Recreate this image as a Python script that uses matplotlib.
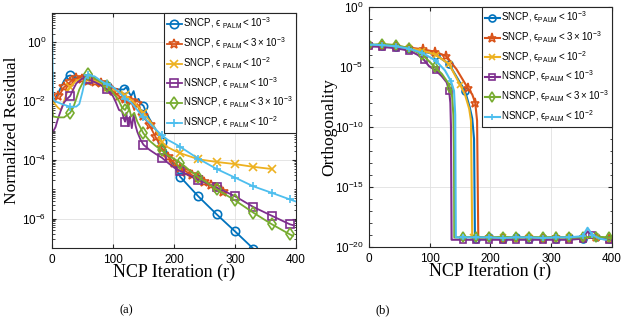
import matplotlib
matplotlib.use('Agg')
import matplotlib.pyplot as plt
import numpy as np
from matplotlib.ticker import FixedLocator, NullFormatter, FixedFormatter

plt.rcParams['font.family'] = 'Liberation Sans'
plt.rcParams['mathtext.default'] = 'regular'

# ---- data: normalized residual (panel a) ----
res_sncp1_x = [0, 5, 10, 15, 20, 25, 30, 40, 50, 60, 70, 80, 90, 100, 110, 118, 122, 126, 130, 134,
               138, 142, 146, 150, 155, 160, 170, 180, 190, 200, 210, 240, 270, 300, 330, 345]
res_sncp1_y = [1.0e-2, 1.2e-2, 1.8e-2, 3.0e-2, 5.0e-2, 7.0e-2, 7.5e-2, 6.5e-2, 6.0e-2, 5.5e-2, 5.0e-2,
               4.0e-2, 3.2e-2, 2.8e-2, 2.5e-2, 2.5e-2, 3.0e-2, 2.0e-2, 1.5e-2, 2.2e-2, 1.0e-2, 1.2e-2,
               8.0e-3, 7.0e-3, 4.0e-3, 2.5e-3, 1.1e-3, 4.0e-4, 1.6e-4, 6.5e-5, 2.7e-5, 5.7e-6, 1.4e-6,
               3.7e-7, 9.5e-8, 4.5e-8]

res_sncp3_x = [0, 5, 10, 15, 20, 25, 30, 35, 40, 50, 60, 70, 80, 90, 100, 110, 115, 120, 125, 130,
               135, 140, 145, 150, 160, 170, 180, 190, 200, 210, 220, 230, 240, 250, 260, 270, 280, 285]
res_sncp3_y = [1.2e-2, 1.0e-2, 1.5e-2, 2.0e-2, 3.0e-2, 3.5e-2, 4.5e-2, 5.5e-2, 6.0e-2, 5.5e-2, 5.0e-2,
               4.5e-2, 4.0e-2, 3.0e-2, 2.2e-2, 1.5e-2, 1.0e-2, 1.2e-2, 7.0e-3, 1.0e-2, 5.0e-3, 8.0e-3,
               4.0e-3, 3.0e-3, 1.5e-3, 6.0e-4, 2.5e-4, 1.3e-4, 8.0e-5, 5.5e-5, 4.0e-5, 3.0e-5, 2.4e-5,
               1.8e-5, 1.4e-5, 1.1e-5, 8.0e-6, 7.0e-6]

res_sncp10_x = [0, 5, 10, 15, 20, 25, 30, 40, 50, 60, 70, 80, 90, 100, 110, 120, 130, 140, 150, 160,
                170, 180, 190, 200, 210, 240, 270, 300, 330, 360]
res_sncp10_y = [1.0e-2, 8.0e-3, 6.0e-3, 5.0e-3, 1.0e-2, 2.0e-2, 3.0e-2, 5.0e-2, 6.0e-2, 5.5e-2, 5.0e-2,
                4.0e-2, 3.0e-2, 2.5e-2, 2.0e-2, 1.6e-2, 1.1e-2, 7.0e-3, 4.0e-3, 2.2e-3, 1.1e-3, 4.0e-4,
                2.7e-4, 2.1e-4, 1.7e-4, 1.05e-4, 8.5e-5, 7.2e-5, 5.8e-5, 4.9e-5]

res_nsncp1_x = [0, 3, 6, 10, 15, 20, 25, 30, 35, 40, 50, 60, 70, 80, 90, 100, 105, 110, 115, 118, 120,
                122, 125, 128, 131, 134, 137, 140, 145, 150, 160, 170, 180, 190, 200, 210, 240, 270,
                300, 330, 360, 390, 395]
res_nsncp1_y = [1.0e-3, 1.0e-3, 1.3e-3, 2.5e-3, 5.0e-3, 9.0e-3, 1.2e-2, 1.5e-2, 2.5e-2, 4.0e-2, 6.0e-2,
                5.5e-2, 4.5e-2, 3.5e-2, 2.5e-2, 1.5e-2, 9.0e-3, 5.0e-3, 4.5e-3, 2.5e-3, 2.0e-3, 4.0e-3,
                1.4e-3, 3.0e-3, 1.2e-3, 3.5e-3, 1.5e-3, 9.0e-4, 5.0e-4, 3.3e-4, 2.2e-4, 1.6e-4, 1.2e-4,
                8.0e-5, 5.5e-5, 4.2e-5, 2.1e-5, 1.15e-5, 5.8e-6, 2.5e-6, 1.26e-6, 6.4e-7, 6.0e-7]

res_nsncp3_x = [0, 2, 10, 20, 30, 35, 40, 45, 50, 55, 60, 70, 80, 90, 100, 110, 115, 120, 125, 130,
                135, 140, 150, 160, 170, 180, 190, 200, 210, 240, 270, 300, 330, 360, 390, 395]
res_nsncp3_y = [9.0e-3, 3.0e-3, 2.8e-3, 2.8e-3, 4.0e-3, 6.0e-3, 1.2e-2, 2.5e-2, 4.0e-2, 6.0e-2, 8.5e-2,
                6.0e-2, 4.5e-2, 3.2e-2, 2.0e-2, 1.0e-2, 6.0e-3, 5.0e-3, 8.0e-3, 3.0e-3, 4.0e-3, 2.0e-3,
                8.0e-4, 4.5e-4, 3.0e-4, 2.1e-4, 1.4e-4, 1.1e-4, 8.0e-5, 2.6e-5, 1.0e-5, 4.2e-6, 1.6e-6,
                6.5e-7, 2.9e-7, 2.6e-7]

res_nsncp10_x = [0, 1, 2, 5, 10, 20, 30, 40, 45, 50, 55, 60, 70, 80, 90, 100, 110, 120, 130, 140, 150,
                 160, 170, 180, 190, 200, 210, 240, 270, 300, 330, 360, 390, 400]
res_nsncp10_y = [20.0, 0.5, 1.2e-2, 1.0e-2, 9.0e-3, 7.5e-3, 6.5e-3, 6.5e-3, 8.0e-3, 2.0e-2, 6.0e-2,
                 7.5e-2, 7.0e-2, 5.0e-2, 3.8e-2, 3.0e-2, 2.0e-2, 1.2e-2, 9.0e-3, 5.0e-3, 2.8e-3, 1.8e-3,
                 1.1e-3, 7.0e-4, 4.8e-4, 3.7e-4, 2.8e-4, 1.1e-4, 4.9e-5, 2.5e-5, 1.26e-5, 7.6e-6,
                 4.5e-6, 3.8e-6]

# ---- data: orthogonality (panel b) ----
orth_sncp1_x = [0, 22, 44, 66, 88, 110, 132, 149, 158, 166, 170, 173, 174.5, 176, 198, 220, 242, 264,
                286, 308, 330, 352, 374, 396, 400]
orth_sncp1_y = [6.3e-4, 5.6e-4, 4.5e-4, 3.2e-4, 2.0e-4, 1.0e-4, 1.6e-5, 5.6e-7, 1.0e-7, 4.0e-9, 5.0e-10,
                1.0e-11, 5.0e-20, 5.0e-20, 6.3e-20, 5.0e-20, 6.3e-20, 5.0e-20, 5.6e-20, 5.0e-20, 6.3e-20,
                5.0e-20, 6.3e-20, 5.0e-20, 5.0e-20]

orth_sncp3_x = [0, 22, 44, 66, 89, 108, 127, 144, 163, 170, 175, 178, 180, 182, 198, 220, 242, 264,
                286, 308, 330, 352, 374, 396, 400]
orth_sncp3_y = [6.3e-4, 5.6e-4, 5.0e-4, 4.0e-4, 2.8e-4, 1.8e-4, 7.9e-5, 6.3e-6, 1.6e-7, 5.0e-8, 1.0e-8,
                3.2e-10, 5.0e-20, 5.0e-20, 6.3e-20, 5.0e-20, 5.6e-20, 6.3e-20, 5.0e-20, 6.3e-20, 5.0e-20,
                5.6e-20, 6.3e-20, 5.0e-20, 5.0e-20]

orth_sncp10_x = [0, 22, 44, 66, 88, 110, 132, 150, 158, 165, 168, 170, 172, 198, 220, 242, 264, 286,
                 308, 330, 352, 374, 396, 400]
orth_sncp10_y = [6.3e-4, 6.3e-4, 5.0e-4, 3.5e-4, 2.2e-4, 1.0e-4, 1.6e-5, 3.2e-7, 5.0e-8, 3.2e-9,
                 3.2e-10, 6.3e-20, 6.3e-20, 5.6e-20, 6.3e-20, 5.0e-20, 6.3e-20, 5.6e-20, 5.0e-20,
                 6.3e-20, 5.6e-20, 6.3e-20, 5.0e-20, 5.0e-20]

orth_nsncp1_x = [0, 22, 44, 66, 80, 90, 99, 110, 120, 128, 132, 134, 135, 136, 154, 176, 198, 220, 242,
                 264, 286, 308, 330, 352, 360, 368, 380, 396, 400]
orth_nsncp1_y = [5.0e-4, 4.5e-4, 3.5e-4, 2.2e-4, 1.0e-4, 4.0e-5, 1.1e-5, 5.0e-6, 1.6e-6, 5.0e-7,
                 1.0e-7, 1.0e-8, 1.0e-10, 4.0e-20, 4.0e-20, 4.0e-20, 4.0e-20, 4.0e-20, 4.0e-20, 4.0e-20,
                 4.0e-20, 4.0e-20, 4.0e-20, 5.0e-20, 2.0e-19, 1.0e-19, 5.0e-20, 4.0e-20, 4.0e-20]

orth_nsncp3_x = [0, 22, 44, 66, 88, 108, 120, 129, 134, 137, 139, 140, 140.5, 154, 176, 198, 220, 242,
                 264, 286, 308, 330, 352, 374, 396, 400]
orth_nsncp3_y = [6.3e-4, 7.9e-4, 6.3e-4, 3.5e-4, 1.0e-4, 1.0e-5, 2.5e-6, 5.6e-7, 1.6e-7, 3.2e-8,
                 1.0e-9, 1.0e-12, 6.3e-20, 6.3e-20, 7.0e-20, 6.3e-20, 7.0e-20, 6.3e-20, 7.0e-20, 6.3e-20,
                 7.0e-20, 6.3e-20, 6.3e-20, 7.0e-20, 6.3e-20, 6.3e-20]

orth_nsncp10_x = [0, 22, 44, 66, 88, 110, 125, 135, 140, 142, 143, 154, 176, 198, 220, 242, 264, 286,
                  308, 330, 352, 360, 368, 380, 390]
orth_nsncp10_y = [7.1e-4, 6.3e-4, 5.0e-4, 3.2e-4, 1.4e-4, 3.2e-5, 5.0e-6, 6.3e-7, 1.0e-7, 1.0e-9,
                  6.3e-20, 6.3e-20, 6.3e-20, 6.3e-20, 5.6e-20, 6.3e-20, 6.3e-20, 5.6e-20, 6.3e-20,
                  6.3e-20, 8.0e-20, 4.0e-19, 1.0e-19, 5.0e-20, 4.0e-20]

colors = ['#0072BD', '#D95319', '#EDB120', '#7E2F8E', '#77AC30', '#4DBEEE']
markers = ['o', '*', 'x', 's', 'd', '+']
names = ['SNCP', 'SNCP', 'SNCP', 'NSNCP', 'NSNCP', 'NSNCP']
bounds = ['10^{-3}', '3\\times10^{-3}', '10^{-2}', '10^{-3}', '3\\times10^{-3}', '10^{-2}']

res_x = [res_sncp1_x, res_sncp3_x, res_sncp10_x, res_nsncp1_x, res_nsncp3_x, res_nsncp10_x]
res_y = [res_sncp1_y, res_sncp3_y, res_sncp10_y, res_nsncp1_y, res_nsncp3_y, res_nsncp10_y]
orth_x = [orth_sncp1_x, orth_sncp3_x, orth_sncp10_x, orth_nsncp1_x, orth_nsncp3_x, orth_nsncp10_x]
orth_y = [orth_sncp1_y, orth_sncp3_y, orth_sncp10_y, orth_nsncp1_y, orth_nsncp3_y, orth_nsncp10_y]


def mark_idx(x, step, start=0):
    # indices of the points closest to start, start+step, ...
    x = np.asarray(x, dtype=float)
    idx = []
    for m in np.arange(start, x.max() + 1, step):
        i = int(np.argmin(np.abs(x - m)))
        if abs(x[i] - m) <= step / 2 and i not in idx:
            idx.append(i)
    return idx


def style_axes(ax):
    ax.set_xlim(0, 400)
    ax.set_xticks([0, 100, 200, 300, 400])
    ax.tick_params(which='both', direction='in', top=True, right=True, labelsize=8.5,
                   color='0.15', pad=4)
    ax.tick_params(which='major', length=3)
    ax.tick_params(which='minor', length=1.8)
    ax.grid(True, which='major', color='0.88', linewidth=0.6)
    for s in ax.spines.values():
        s.set_color('0.15')
        s.set_linewidth(0.8)
    ax.set_xlabel('NCP Iteration (r)', family='Liberation Serif', fontsize=13, labelpad=-1)


def add_legend(ax):
    leg = ax.legend(loc='upper right', fontsize=7, borderaxespad=0, handlelength=1.6,
                    handletextpad=0.1, labelspacing=0.45, borderpad=0.3, fancybox=False,
                    framealpha=1, edgecolor='0.15')
    leg.get_frame().set_linewidth(0.8)


eps = '\u03f5'

fig = plt.figure(figsize=(6.4, 3.34), dpi=100)

# ---- (a) normalized residual ----
ax1 = fig.add_axes([0.081, 0.2575, 0.3815, 0.7035])
for i in range(6):
    step = 10 if i == 1 else 30
    ax1.plot(res_x[i], res_y[i], color=colors[i], marker=markers[i], lw=1.3,
             ms=6 if markers[i] != '*' else 7, mfc='none', mew=1.2,
             markevery=mark_idx(res_x[i], step, step),
             label=names[i] + ', $' + eps + r'_{\ PALM} < ' + bounds[i] + '$')
ax1.set_yscale('log')
ax1.set_ylim(1e-7, 10)
ax1.yaxis.set_major_locator(FixedLocator([1e0, 1e-2, 1e-4, 1e-6]))
ax1.yaxis.set_major_formatter(FixedFormatter(['$10^{0}$', '$10^{-2}$', '$10^{-4}$', '$10^{-6}$']))
minor = [k * 10.0 ** e for e in range(-7, 1) for k in range(1, 10)]
ax1.yaxis.set_minor_locator(FixedLocator(minor))
ax1.yaxis.set_minor_formatter(NullFormatter())
style_axes(ax1)
ax1.set_ylabel('Normalized Residual', family='Liberation Serif', fontsize=12.5, labelpad=1)
add_legend(ax1)

# ---- (b) orthogonality ----
ax2 = fig.add_axes([0.5766, 0.2605, 0.3794, 0.7195])
for i in range(6):
    ax2.plot(orth_x[i], orth_y[i], color=colors[i], marker=markers[i], lw=1.5,
             ms=5 if markers[i] != '*' else 6.5, mfc='none', mew=1.2,
             markevery=mark_idx(orth_x[i], 22),
             label=names[i] + ', $' + eps + '_{PALM} < ' + bounds[i] + '$')
ax2.set_yscale('log')
ax2.set_ylim(1e-20, 1)
ax2.yaxis.set_major_locator(FixedLocator([1e0, 1e-5, 1e-10, 1e-15, 1e-20]))
ax2.yaxis.set_major_formatter(FixedFormatter(['$10^{0}$', '$10^{-5}$', '$10^{-10}$',
                                              '$10^{-15}$', '$10^{-20}$']))
ax2.yaxis.set_minor_locator(FixedLocator([10.0 ** e for e in range(-20, 1)]))
ax2.yaxis.set_minor_formatter(NullFormatter())
style_axes(ax2)
ax2.set_ylabel('Orthogonality', family='Liberation Serif', fontsize=12.5, labelpad=-2)
add_legend(ax2)

fig.text(126 / 640, 1 - 310 / 334, '(a)', family='Liberation Serif', fontsize=9,
         ha='center', va='center')
fig.text(383 / 640, 1 - 310 / 334, '(b)', family='Liberation Serif', fontsize=9,
         ha='center', va='center')

fig.savefig('out.png', dpi=100)
